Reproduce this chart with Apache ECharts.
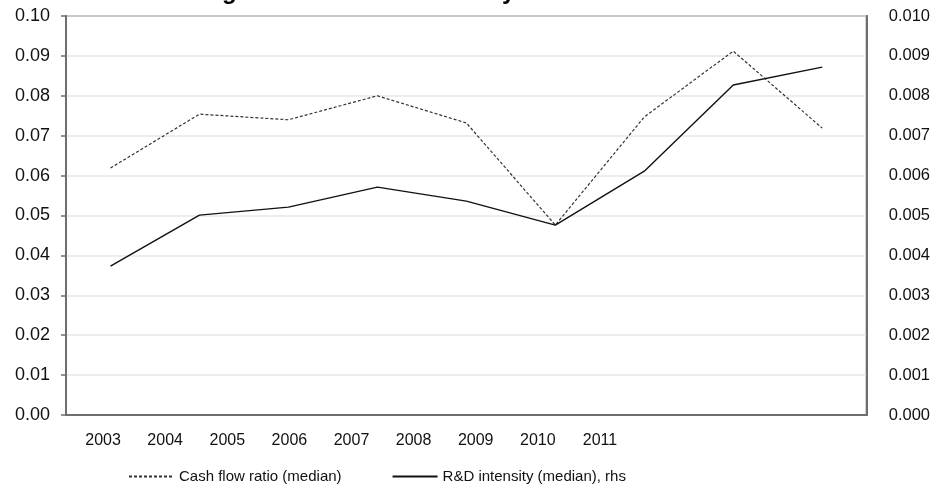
<!DOCTYPE html>
<html><head><meta charset="utf-8">
<script src="https://cdn.jsdelivr.net/npm/echarts@6/dist/echarts.min.js"></script>
<style>html,body{margin:0;padding:0;background:#fff}#c{width:933px;height:504px}</style>
</head><body><div id="c"></div>
<script>
const years = ['2003','2004','2005','2006','2007','2008','2009','2010','2011'];
const cashFlowRatio = [0.0619, 0.0754, 0.0740, 0.0800, 0.0732, 0.0476, 0.0747, 0.0912, 0.0719];
const rdIntensity = [0.00373, 0.00501, 0.00521, 0.00571, 0.00536, 0.00476, 0.00611, 0.00827, 0.00872];
const leftTicks = {min: 0, max: 0.10, interval: 0.01};
const rightTicks = {min: 0, max: 0.010, interval: 0.001};
const titleText = 'Cash flow growth and R&D intensity';

const font = 'Liberation Sans, Arial, sans-serif';
const axisGray = '#6e6e6e';
const chart = echarts.init(document.getElementById('c'), null, {renderer: 'canvas'});
chart.setOption({
  animation: false,
  title: {text: titleText, left: 97, top: -25,
    textStyle: {fontFamily: font, fontSize: 24, fontWeight: 'bold', color: '#000'}},
  legend: {
    bottom: 15, left: 123, itemWidth: 45, itemHeight: 10, itemGap: 50,
    itemStyle: {opacity: 0},
    textStyle: {fontFamily: font, fontSize: 15, color: '#111'},
    data: ['Cash flow ratio (median)', 'R&D intensity (median), rhs']
  },
  grid: [
    {left: 66, right: 66, top: 16, bottom: 89, show: true, borderColor: axisGray, borderWidth: 2},
    {left: 72, width: 559, top: 16, bottom: 89}
  ],
  xAxis: [
    {type: 'category', data: years, gridIndex: 0, boundaryGap: true,
      axisLine: {show: true, lineStyle: {color: axisGray, width: 2}},
      axisTick: {show: false}, axisLabel: {show: false}},
    {type: 'category', data: years, gridIndex: 1, boundaryGap: true,
      axisLine: {show: false}, axisTick: {show: false},
      axisLabel: {margin: 18, fontFamily: font, fontSize: 16, color: '#111'}}
  ],
  yAxis: [
    {type: 'value', gridIndex: 0, min: leftTicks.min, max: leftTicks.max, interval: leftTicks.interval,
      axisLine: {show: true, lineStyle: {color: axisGray, width: 2}},
      axisTick: {show: true, length: 5, lineStyle: {color: axisGray, width: 1.5}},
      splitLine: {lineStyle: {color: '#ebe6e1', width: 1.5}},
      axisLabel: {margin: 16, fontFamily: font, fontSize: 18, color: '#111', formatter: v => v.toFixed(2)}},
    {type: 'value', gridIndex: 0, position: 'right', min: rightTicks.min, max: rightTicks.max, interval: rightTicks.interval,
      axisLine: {show: true, lineStyle: {color: axisGray, width: 2}},
      axisTick: {show: false}, splitLine: {show: false},
      axisLabel: {margin: 22, fontFamily: font, fontSize: 16.5, color: '#111', formatter: v => v.toFixed(3)}},
    {type: 'value', gridIndex: 1, min: 0, max: 1, show: false}
  ],
  series: [
    {name: 'Cash flow ratio (median)', type: 'line', xAxisIndex: 0, yAxisIndex: 0, data: cashFlowRatio,
      symbol: 'none', lineStyle: {color: '#333', width: 1.2, type: [3, 2]}, itemStyle: {color: '#333'}},
    {name: 'R&D intensity (median), rhs', type: 'line', xAxisIndex: 0, yAxisIndex: 1, data: rdIntensity,
      symbol: 'none', lineStyle: {color: '#111', width: 1.4, type: 'solid'}, itemStyle: {color: '#111'}}
  ]
});
</script></body></html>
